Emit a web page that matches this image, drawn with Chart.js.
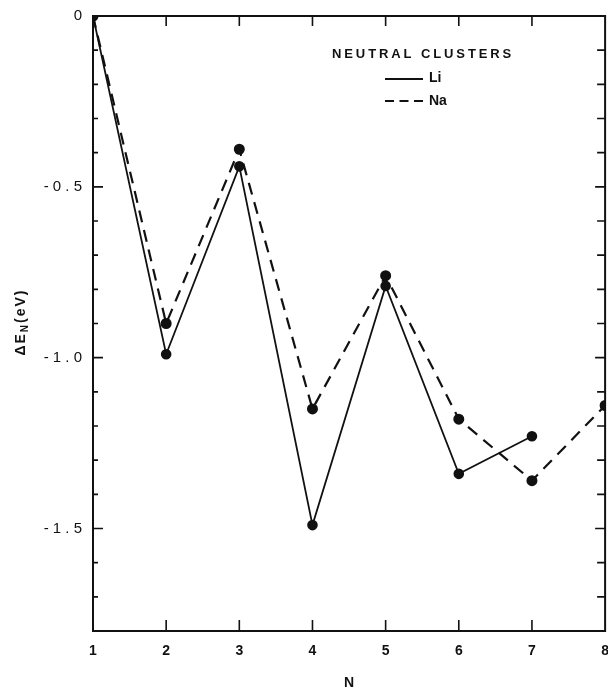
<!DOCTYPE html>
<html>
<head>
<meta charset="utf-8">
<script src="https://cdn.jsdelivr.net/npm/chart.js@4.4.1/dist/chart.umd.min.js"></script>
<style>
  html, body { margin: 0; padding: 0; background: #fff; overflow: hidden; }
  #wrap { width: 608px; height: 690px; overflow: hidden; }
</style>
</head>
<body>
<div id="wrap"><canvas id="c" width="613" height="690"></canvas></div>
<script>
// Cluster size N and energy differences ΔE_N (eV) for neutral clusters
const clusterSizes = [1, 2, 3, 4, 5, 6, 7, 8];
const liEnergies = [0, -0.99, -0.44, -1.49, -0.79, -1.34, -1.23];
const naEnergies = [0, -0.90, -0.39, -1.15, -0.76, -1.18, -1.36, -1.14];
const yTickLabels = {
  '0': '0',
  '-0.5': '- 0 . 5',
  '-1': '- 1 . 0',
  '-1.5': '- 1 . 5'
};

const FONT = '"Liberation Sans", Arial, sans-serif';
const INK = '#111';

function toPoints(values) {
  return values.map((v, i) => ({ x: clusterSizes[i], y: v }));
}

// Frame with inward tick marks on all four sides, legend block and axis titles
const framePlugin = {
  id: 'frame',
  afterDraw(chart) {
    const { ctx, chartArea: a, scales } = chart;
    const xs = scales.x, ys = scales.y;
    ctx.save();
    ctx.strokeStyle = INK;
    ctx.lineWidth = 2;
    ctx.strokeRect(a.left, a.top, a.right - a.left, a.bottom - a.top);

    ctx.lineWidth = 1.6;
    ctx.beginPath();
    xs.ticks.forEach(t => {
      const px = xs.getPixelForValue(t.value);
      if (px <= a.left + 1 || px >= a.right - 1) return;
      ctx.moveTo(px, a.bottom); ctx.lineTo(px, a.bottom - 11);
      ctx.moveTo(px, a.top); ctx.lineTo(px, a.top + 10);
    });
    ys.ticks.forEach(t => {
      const py = ys.getPixelForValue(t.value);
      if (py <= a.top + 1 || py >= a.bottom - 1) return;
      const major = Math.abs(Math.round(t.value * 10)) % 5 === 0;
      const len = major ? 10 : 5;
      ctx.moveTo(a.left, py); ctx.lineTo(a.left + len, py);
      ctx.moveTo(a.right, py); ctx.lineTo(a.right - (major ? 10 : 8), py);
    });
    ctx.stroke();

    // legend
    ctx.fillStyle = INK;
    ctx.font = 'bold 13px ' + FONT;
    ctx.textBaseline = 'middle';
    ctx.textAlign = 'left';
    const title = 'NEUTRAL CLUSTERS';
    let tx = 332;
    for (const ch of title) {
      ctx.fillText(ch, tx, 54);
      tx += ctx.measureText(ch).width + 2.9;
    }
    ctx.lineWidth = 2;
    ctx.beginPath();
    ctx.moveTo(385, 79); ctx.lineTo(423, 79);
    ctx.stroke();
    ctx.setLineDash([9, 5.5]);
    ctx.beginPath();
    ctx.moveTo(385, 101); ctx.lineTo(423, 101);
    ctx.stroke();
    ctx.setLineDash([]);
    ctx.font = 'bold 14px ' + FONT;
    ctx.fillText('Li', 429, 78);
    ctx.fillText('Na', 429, 101);

    // x-axis title
    ctx.font = 'bold 14px ' + FONT;
    ctx.textAlign = 'center';
    ctx.fillText('N', (a.left + a.right) / 2, 683);

    // y-axis title with subscript
    ctx.translate(21, 322);
    ctx.rotate(-Math.PI / 2);
    ctx.textAlign = 'left';
    ctx.letterSpacing = '2px';
    const parts = [['ΔE', 0, 'bold 14px '], ['N', 4, 'bold 10px '], ['(eV)', 0, 'bold 14px ']];
    let w = 0;
    parts.forEach(p => { ctx.font = p[2] + FONT; w += ctx.measureText(p[0]).width; });
    let x0 = -w / 2;
    parts.forEach(p => {
      ctx.font = p[2] + FONT;
      ctx.fillText(p[0], x0, p[1]);
      x0 += ctx.measureText(p[0]).width;
    });
    ctx.restore();
  }
};

new Chart(document.getElementById('c'), {
  type: 'line',
  data: {
    datasets: [
      {
        label: 'Li',
        data: toPoints(liEnergies),
        borderColor: INK,
        backgroundColor: INK,
        borderWidth: 1.8,
        pointRadius: 4.4,
        pointHoverRadius: 4.4,
        tension: 0
      },
      {
        label: 'Na',
        data: toPoints(naEnergies),
        borderColor: INK,
        backgroundColor: INK,
        borderWidth: 2.2,
        borderDash: [12, 8],
        pointRadius: 4.4,
        pointHoverRadius: 4.4,
        tension: 0
      }
    ]
  },
  options: {
    responsive: false,
    animation: false,
    events: [],
    layout: { autoPadding: false, padding: { left: 0, right: 3, top: 16, bottom: 0 } },
    plugins: { legend: { display: false }, tooltip: { enabled: false } },
    scales: {
      x: {
        type: 'linear',
        min: 1,
        max: 8,
        grid: { display: false },
        border: { display: false },
        ticks: {
          stepSize: 1,
          color: INK,
          padding: 4,
          maxRotation: 0,
          font: { family: FONT, size: 14, weight: 'bold' },
          callback: v => String(v)
        },
        afterFit(s) { s.height = 59; }
      },
      y: {
        type: 'linear',
        min: -1.8,
        max: 0,
        grid: { display: false },
        border: { display: false },
        ticks: {
          stepSize: 0.1,
          autoSkip: false,
          color: INK,
          padding: 3,
          font: { family: FONT, size: 15 },
          callback: v => {
            const k = String(Math.round(v * 10) / 10);
            return yTickLabels[k] !== undefined ? yTickLabels[k] : '';
          }
        },
        afterFit(s) { s.width = 93; }
      }
    }
  },
  plugins: [framePlugin]
});
</script>
</body>
</html>
